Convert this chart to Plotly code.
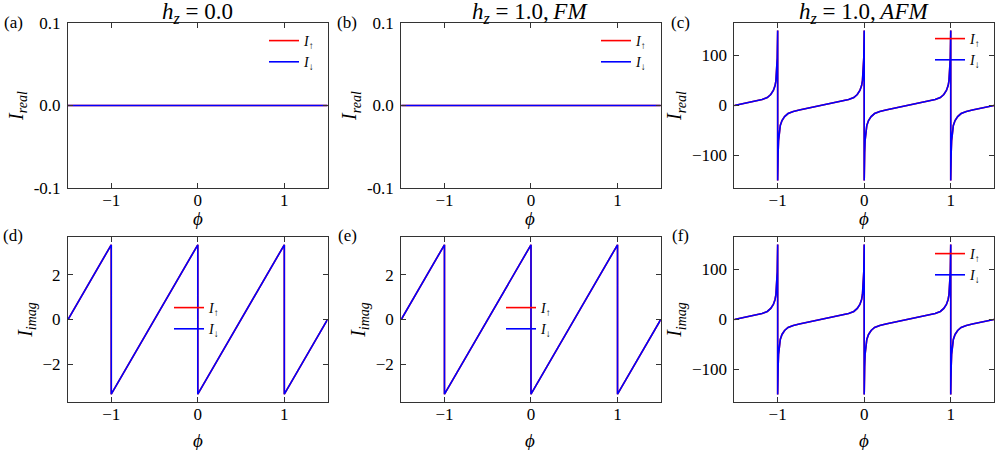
import plotly.graph_objects as go
from plotly.subplots import make_subplots

# ---- data ----
phi_flat = [-1.5, 1.5]
i_flat = [0.0, 0.0]

# sawtooth imaginary current (panels d, e)
phi_saw = [-1.5, -1.0, -1.0, 0.0, 0.0, 1.0, 1.0, 1.5]
i_saw = [0.0, 3.33, -3.33, 3.33, -3.33, 3.33, -3.33, 0.0]

# AFM current (panels c, f)
phi_afm = [-1.5, -1.42, -1.33, -1.25, -1.18, -1.12, -1.08, -1.05, -1.03, -1.02, -1.01, -1.005,
           -1.0, -1.0,
           -0.995, -0.99, -0.98, -0.97, -0.95, -0.92, -0.88, -0.82, -0.75, -0.67, -0.58, -0.5,
           -0.42, -0.33, -0.25, -0.18, -0.12, -0.08, -0.05, -0.03, -0.02, -0.01, -0.005,
           0.0, 0.0,
           0.005, 0.01, 0.02, 0.03, 0.05, 0.08, 0.12, 0.18, 0.25, 0.33, 0.42, 0.5,
           0.58, 0.67, 0.75, 0.82, 0.88, 0.92, 0.95, 0.97, 0.98, 0.99, 0.995,
           1.0, 1.0,
           1.005, 1.01, 1.02, 1.03, 1.05, 1.08, 1.12, 1.18, 1.25, 1.33, 1.42, 1.5]
i_afm_real = [0, 3, 6, 9, 12, 16, 22, 30, 40, 50, 70, 95,
              150, -150,
              -95, -70, -50, -40, -30, -22, -16, -12, -9, -6, -3, 0,
              3, 6, 9, 12, 16, 22, 30, 40, 50, 70, 95,
              150, -150,
              -95, -70, -50, -40, -30, -22, -16, -12, -9, -6, -3, 0,
              3, 6, 9, 12, 16, 22, 30, 40, 50, 70, 95,
              150, -150,
              -95, -70, -50, -40, -30, -22, -16, -12, -9, -6, -3, 0]
i_afm_imag = list(i_afm_real)  # (f) looks the same as (c)

titles = ["<i>h</i><sub><i>z</i></sub> = 0.0",
          "<i>h</i><sub><i>z</i></sub> = 1.0,\u2009<i>FM</i>",
          "<i>h</i><sub><i>z</i></sub> = 1.0,\u2009<i>AFM</i>"]
panel_labels = ["(a)", "(b)", "(c)", "(d)", "(e)", "(f)"]

x_tickvals = [-1, 0, 1]
x_ticktext = ["\u22121", "0", "1"]
small_tickvals = [-0.1, 0.0, 0.1]
small_ticktext = ["-0.1", "0.0", "0.1"]
big_tickvals = [-100, 0, 100]
big_ticktext = ["\u2212100", "0", "100"]
saw_tickvals = [-2, 0, 2]
saw_ticktext = ["\u22122", "0", "2"]

panels = [
    (phi_flat, i_flat, small_tickvals, small_ticktext, [-0.1, 0.1], "real"),
    (phi_flat, i_flat, small_tickvals, small_ticktext, [-0.1, 0.1], "real"),
    (phi_afm, i_afm_real, big_tickvals, big_ticktext, [-165, 165], "real"),
    (phi_saw, i_saw, saw_tickvals, saw_ticktext, [-3.68, 3.68], "imag"),
    (phi_saw, i_saw, saw_tickvals, saw_ticktext, [-3.68, 3.68], "imag"),
    (phi_afm, i_afm_imag, big_tickvals, big_ticktext, [-165, 165], "imag"),
]

# legend spots (pixel of legend top-left)
legend_px = [(264, 25), (596, 25), (930, 23), (169, 292), (501, 292), (930, 238)]

W, H = 997, 450
L, R, T, B = 68, 3, 23, 48
PW, PH = W - L - R, H - T - B


def px(x):
    return (x - L) / PW


def py(y):
    return (H - B - y) / PH


SERIF = "Liberation Serif, Times New Roman, serif"

fig = make_subplots(rows=2, cols=3, horizontal_spacing=0.0795, vertical_spacing=0.129)

for k, (xs, ys, tv, tt, yr, part) in enumerate(panels):
    row, col = k // 3 + 1, k % 3 + 1
    leg = "legend" if k == 0 else "legend%d" % (k + 1)
    fig.add_trace(go.Scatter(x=xs, y=ys, mode="lines", name="<i>I</i><sub>\u2191</sub>",
                             line=dict(color="red", width=1.6), legend=leg), row=row, col=col)
    fig.add_trace(go.Scatter(x=xs, y=ys, mode="lines", name="<i>I</i><sub>\u2193</sub>",
                             line=dict(color="blue", width=1.6), legend=leg), row=row, col=col)
    fig.update_xaxes(range=[-1.5, 1.5], tickvals=x_tickvals, ticktext=x_ticktext,
                     row=row, col=col)
    fig.update_yaxes(range=yr, tickvals=tv, ticktext=tt,
                     title=dict(text="<i>I</i><sub><i>%s</i></sub>" % part,
                                font=dict(family=SERIF, size=20), standoff=4),
                     row=row, col=col)
    lx, ly = legend_px[k]
    fig.update_layout({leg: dict(x=px(lx), y=py(ly), xanchor="left", yanchor="top",
                                 bgcolor="rgba(0,0,0,0)", borderwidth=0,
                                 font=dict(family=SERIF, size=14, color="black"))})

fig.update_xaxes(showgrid=False, zeroline=False, showline=True, linecolor="#333", linewidth=1,
                 mirror="allticks", ticks="inside", ticklen=5, tickcolor="#333",
                 tickfont=dict(family=SERIF, size=17), ticklabelstandoff=-3)
fig.update_yaxes(showgrid=False, zeroline=False, showline=True, linecolor="#333", linewidth=1,
                 mirror="allticks", ticks="inside", ticklen=5, tickcolor="#333",
                 tickfont=dict(family=SERIF, size=17), ticklabelstandoff=3)

# panel titles
col_centers = [(68 + 327) / 2, (400 + 660) / 2, (734 + 994) / 2]
for c, t in enumerate(titles):
    fig.add_annotation(text=t, x=px(col_centers[c]), y=py(13), xref="paper", yref="paper",
                       showarrow=False, xanchor="center", yanchor="middle",
                       font=dict(family=SERIF, size=23, color="black"))

# x axis titles (phi) under each panel
for c in range(3):
    for yy in (218, 440):
        fig.add_annotation(text="<i>\u03d5</i>", x=px(col_centers[c]), y=py(yy),
                           xref="paper", yref="paper", showarrow=False,
                           xanchor="center", yanchor="middle",
                           font=dict(family=SERIF, size=19, color="black"))

# panel letters
label_pos = [(13, 22), (347, 22), (680, 22), (13, 235), (347, 235), (680, 235)]
for lab, (lx, ly) in zip(panel_labels, label_pos):
    fig.add_annotation(text=lab, x=px(lx), y=py(ly), xref="paper", yref="paper",
                       showarrow=False, xanchor="center", yanchor="middle",
                       font=dict(family=SERIF, size=17, color="black"))

fig.update_layout(
    width=W, height=H,
    margin=dict(l=L, r=R, t=T, b=B),
    plot_bgcolor="white", paper_bgcolor="white",
    font=dict(family=SERIF, color="black"),
)

fig.write_html("out.html", config={"displayModeBar": False},
               post_script="document.body.style.margin='0px';")
